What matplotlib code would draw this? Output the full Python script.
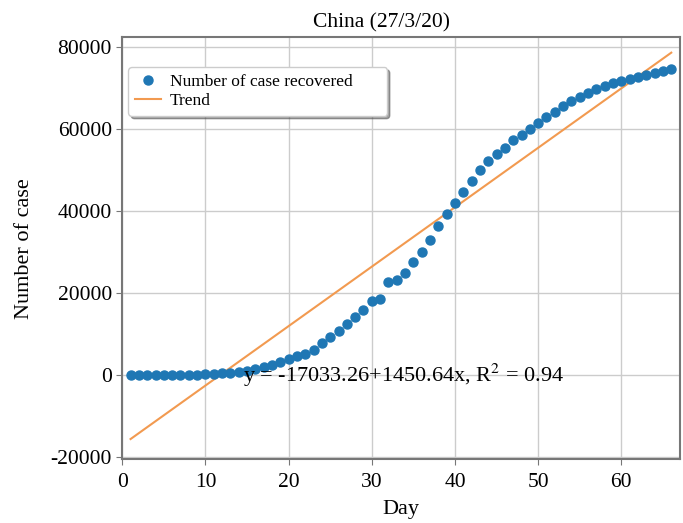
import numpy as np
import matplotlib
matplotlib.use("Agg")
import matplotlib.pyplot as plt

plt.rcParams['font.family'] = ['Liberation Serif', 'DejaVu Serif']
plt.rcParams['mathtext.fontset'] = 'stix'
plt.rcParams['axes.unicode_minus'] = False

# Dias (22/1/20 - 27/3/20) y casos recuperados en China
dias = np.arange(1, 67)
recuperados = [28, 30, 36, 39, 49, 58, 101, 120, 135, 214,
               275, 463, 614, 843, 1115, 1476, 1998, 2595, 3218, 3917,
               4635, 5079, 6213, 7973, 9294, 10748, 12455, 14199, 15952, 18002,
               18693, 22687, 23170, 24990, 27650, 30053, 32898, 36291, 39279, 42118,
               44810, 47404, 49955, 52240, 53888, 55478, 57320, 58735, 60106, 61644,
               62901, 64196, 65660, 67017, 67910, 68798, 69755, 70535, 71266, 71857,
               72362, 72814, 73280, 73773, 74181, 74720]
# Coeficientes de la tendencia
intercepto = -17033.26
pendiente = 1450.64
r2 = 0.94

fig = plt.figure(figsize=(6.83, 5.23), dpi=100)
ax = fig.add_subplot(111)
fig.subplots_adjust(left=0.179, right=0.995, top=0.929, bottom=0.122)

ax.plot(dias, recuperados, 'o', color='#1f77b4', markersize=6.5,
        label='Number of case recovered', zorder=3)
xt = np.array([dias[0], dias[-1]])
ax.plot(xt, intercepto + pendiente*xt, color='#f29a50', linewidth=1.5,
        label='Trend', zorder=2)

ax.text(14.5, 0, 'y = %.2f+%.2fx, R$^2$ = %.2f' % (intercepto, pendiente, r2),
        fontsize=16, va='center', ha='left', zorder=4)

ax.set_xlim(0, 67)
ax.set_ylim(-20500, 82500)
ax.set_xticks(range(0, 70, 10))
ax.set_yticks(range(-20000, 80001, 20000))
ax.grid(True, color='#cccccc', linewidth=1)
ax.set_axisbelow(True)
for s in ax.spines.values():
    s.set_color('#777777')
    s.set_linewidth(1.5)
ax.tick_params(labelsize=15.5, color='#777777', length=4)
ax.tick_params(axis='x', pad=6)

ax.set_title('China (27/3/20)', fontsize=15.5, pad=7, x=0.466)
ax.set_xlabel('Day', fontsize=16, labelpad=6)
ax.set_ylabel('Number of case', fontsize=16, labelpad=12)

ax.legend(loc='upper left', bbox_to_anchor=(0.011, 0.0, 0.464, 0.929),
          mode='expand', fontsize=12.5,
          shadow=True, framealpha=1, handlelength=1.5, handletextpad=0.5,
          borderpad=0.4, borderaxespad=0, labelspacing=0.15)

plt.savefig('out.png', dpi=100)
